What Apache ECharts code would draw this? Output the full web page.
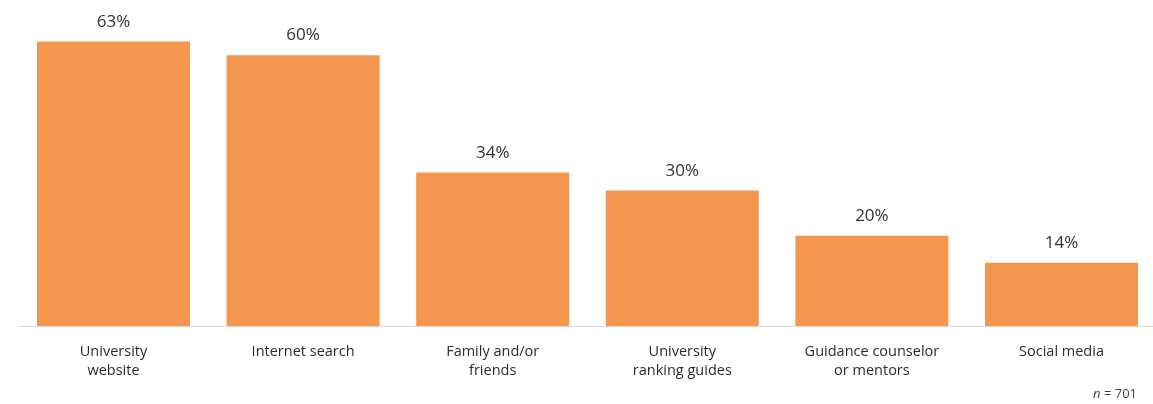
<!DOCTYPE html>
<html>
<head>
<meta charset="utf-8">
<script src="https://cdn.jsdelivr.net/npm/echarts@6/dist/echarts.min.js"></script>
<style>
  html, body { margin: 0; padding: 0; background: #fff; }
  #chart { width: 1153px; height: 404px; }
</style>
</head>
<body>
<div id="chart"></div>
<script>
const categories = [
  "University\nwebsite",
  "Internet search",
  "Family and/or\nfriends",
  "University\nranking guides",
  "Guidance counselor\nor mentors",
  "Social media"
]
const shares = [63, 60, 34, 30, 20, 14]
const sampleSize = 701

const chart = echarts.init(document.getElementById("chart"))
const font = "'Open Sans', Lato, sans-serif"

chart.setOption({
  animation: false,
  textStyle: { fontFamily: font },
  grid: {
    left: 18.7,
    top: 10,
    width: 1137.6,
    bottom: 78,
    outerBoundsMode: "none",
    containLabel: false
  },
  xAxis: {
    type: "category",
    data: categories,
    axisLine: { lineStyle: { color: "#d9d9d9", width: 1 } },
    axisTick: { show: false },
    axisLabel: {
      color: "#2b2b2b",
      fontSize: 14.5,
      lineHeight: 19,
      margin: 16,
      fontFamily: font,
      interval: 0
    }
  },
  yAxis: {
    type: "value",
    min: 0,
    max: 70,
    show: false,
    splitLine: { show: false }
  },
  series: [
    {
      type: "bar",
      data: shares,
      barWidth: 153,
      itemStyle: { color: "#F5964F" },
      label: {
        show: true,
        position: "top",
        distance: 11,
        formatter: "{c}%",
        color: "#333",
        fontSize: 17,
        fontFamily: font
      }
    }
  ],
  graphic: [
    {
      type: "text",
      right: 16,
      top: 388,
      style: {
        text: "{i|n} = " + sampleSize,
        rich: {
          i: { fontStyle: "italic", fontSize: 13, fill: "#444", fontFamily: font }
        },
        fontSize: 13,
        fill: "#444",
        fontFamily: font
      }
    }
  ]
})
</script>
</body>
</html>
